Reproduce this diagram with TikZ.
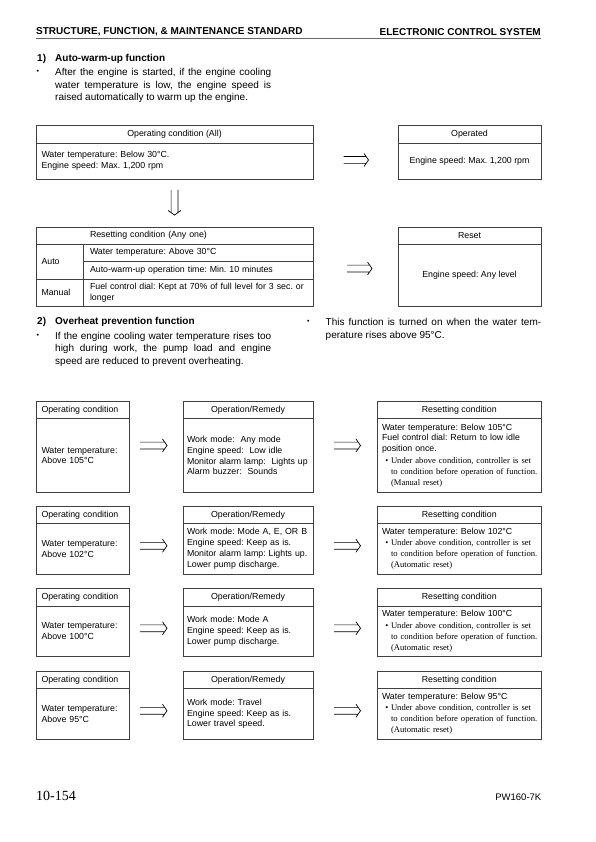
\documentclass[tikz,border=0pt]{standalone}
\usepackage{fontspec}
\setmainfont{Liberation Sans}
\newfontfamily\tms{Liberation Serif}
\usetikzlibrary{decorations.markings}

\newcommand{\bodyfont}{\fontsize{8.8}{10.8}\selectfont}
\newcommand{\parafont}{\fontsize{10}{12.6}\selectfont}
\newcommand{\headfont}{\bfseries\fontsize{10}{12}\selectfont}
\newcommand{\dotmark}{{\fontsize{7}{7}\selectfont •}}
\newcommand{\resetnote}[1]{\parbox[t]{158pt}{\tms\fontsize{8.6}{11}\selectfont
  \hspace*{9pt}\llap{\textbullet\hspace{2.5pt}}\makebox[149pt][s]{Under above condition, controller is set}\\
  \hspace*{9pt}\makebox[149pt][s]{to condition before operation of function.}\\
  \hspace*{9pt}(#1 reset)}}

\begin{document}
\frenchspacing
\begin{tikzpicture}[x=1pt,y=-1pt,
  box/.style={draw=black!75, line width=0.6pt, inner ysep=0pt, inner xsep=5.5pt,
    outer sep=0pt, anchor=north west, font=\bodyfont},
  txt/.style={inner sep=0pt, anchor=west},
  imp/.style 2 args={decorate, decoration={markings, mark=at position -#2 with {
    \draw[line width=0.7pt] (-#1,3.4pt) -- (-2.3pt,3.4pt) (-#1,-3.4pt) -- (-2.3pt,-3.4pt)
      (-4.5pt,6.5pt) -- (0pt,0pt) -- (-4.5pt,-6.5pt);}}}]
\useasboundingbox (0,0) rectangle (595,842);

\node[txt, font=\headfont] (hdl) at (36,31.8) {STRUCTURE, FUNCTION, \& MAINTENANCE STANDARD};
\node[txt, anchor=east, font=\headfont] (hdr) at (541,31.8) {ELECTRONIC CONTROL SYSTEM};
\draw[black!60, line width=0.8pt] (36,38.5) -- (541,38.5);

\node[txt, font=\headfont] (s1n) at (37,58.8) {1)};
\node[txt, font=\headfont] (s1) at (55,58.8) {Auto-warm-up function};
\node[txt] (s1d) at (36.5,72) {\dotmark};
\node[txt, anchor=north west, text width=216pt, align=justify, font=\parafont] (s1p) at (55,68.3)
  {After the engine is started, if the engine cooling\linebreak water temperature is low, the engine speed is\linebreak raised automatically to warm up the engine.};

\node[box, minimum width=277pt, minimum height=17.5pt] (opA) at (36,125.5) {Operating condition (All)};
\node[box, minimum width=277pt, minimum height=36pt, text width=266pt, align=left] (opAb) at (opA.south west)
  {Water temperature: Below 30°C.\\Engine speed: Max. 1,200 rpm};
\node[box, minimum width=143pt, minimum height=17.5pt] (opB) at (398,125.5) {Operated};
\node[box, minimum width=143pt, minimum height=36pt] (opBb) at (opB.south west) {Engine speed: Max. 1,200 rpm};
\draw[imp={25pt}{29.5pt}] ([yshift=1pt]opAb.east) -- ([yshift=1pt]opBb.west);

\node[box, minimum width=277pt, minimum height=17pt, text width=266pt, align=left] (rsC) at (36,227)
  {\hspace*{48.5pt}Resetting condition (Any one)};
\node[box, minimum width=47.5pt, minimum height=35pt, text width=36.5pt, align=left] (rsAuto) at (rsC.south west) {Auto};
\node[box, minimum width=47.5pt, minimum height=27pt, text width=36.5pt, align=left] (rsMan) at (rsAuto.south west) {Manual};
\node[box, minimum width=229.5pt, minimum height=17pt, text width=216.5pt, inner xsep=6.5pt, align=left] (rsWt) at (rsAuto.north east)
  {Water temperature: Above 30°C};
\node[box, minimum width=229.5pt, minimum height=18pt, text width=216.5pt, inner xsep=6.5pt, align=left] (rsTm) at (rsWt.south west)
  {Auto-warm-up operation time: Min. 10 minutes};
\node[box, minimum width=229.5pt, minimum height=27pt, text width=216.5pt, inner xsep=6.5pt, align=left] (rsFd) at (rsTm.south west)
  {Fuel control dial: Kept at 70\% of full level for 3 sec. or\\longer};
\node[box, minimum width=143pt, minimum height=17pt] (rsD) at (398,227) {Reset};
\node[box, minimum width=143pt, minimum height=62pt] (rsDb) at (rsD.south west) {Engine speed: Any level};
\draw[imp={25pt}{12pt}] (opAb.south) -- (rsC.north);
\path ([yshift=6.5pt]rsDb.west) coordinate (rsDin);
\draw[imp={25pt}{26pt}] (rsDin -| rsC.east) -- (rsDin);

\node[txt, font=\headfont] (s2n) at (37,321.7) {2)};
\node[txt, font=\headfont] (s2) at (55,321.7) {Overheat prevention function};
\node[txt] (s2d) at (36.5,335.5) {\dotmark};
\node[txt, anchor=north west, text width=216pt, align=justify, font=\parafont] (s2p) at (55,331.8)
  {If the engine cooling water temperature rises too\linebreak high during work, the pump load and engine\linebreak speed are reduced to prevent overheating.};
\node[txt] (s3d) at (307,321.7) {\dotmark};
\node[txt, anchor=north west, text width=215.5pt, align=justify, font=\parafont] (s3p) at (325.5,318)
  {This function is turned on when the water tem-\linebreak perature rises above 95°C.};

\node[box, minimum width=93pt, minimum height=17.5pt, text width=82pt, align=left] (oc1) at (36,401) {Operating condition};
\node[box, minimum width=93pt, minimum height=74pt, text width=82pt, align=left] (oc1b) at (oc1.south west)
  {Water temperature:\\Above 105°C};
\node[box, minimum width=130pt, minimum height=17.5pt] (or1) at (183,401) {Operation/Remedy};
\node[box, minimum width=130pt, minimum height=74pt, text width=122pt, inner xsep=4pt, align=left] (or1b) at (or1.south west)
  {Work mode:~ Any mode\\Engine speed:~ Low idle\\Monitor alarm lamp:~ Lights up\\Alarm buzzer:~ Sounds};
\node[box, minimum width=163.5pt, minimum height=17.5pt] (rc1) at (377.5,401) {Resetting condition};
\node[box, minimum width=163.5pt, minimum height=74pt, text width=154.5pt, inner xsep=4.5pt, align=left] (rc1b) at (rc1.south west)
  {Water temperature: Below 105°C\\Fuel control dial: Return to low idle\\position once.\\[1pt]\resetnote{Manual}};
\draw[imp={27pt}{16pt}] ([yshift=10pt]oc1b.east) -- ([yshift=10pt]or1b.west);
\draw[imp={26.5pt}{17pt}] ([yshift=10pt]or1b.east) -- ([yshift=10pt]rc1b.west);

\foreach \i/\top/\tmp/\work in {2/506/102/{Work mode: Mode A, E, OR B\\Engine speed: Keep as is.\\Monitor alarm lamp: Lights up.\\Lower pump discharge.},
    3/588.5/100/{Work mode: Mode A\\Engine speed: Keep as is.\\Lower pump discharge.},
    4/671/95/{Work mode: Travel\\Engine speed: Keep as is.\\Lower travel speed.}} {
  \node[box, minimum width=93pt, minimum height=17.5pt, text width=82pt, align=left] (oc\i) at (36,\top) {Operating condition};
  \node[box, minimum width=93pt, minimum height=50.5pt, text width=82pt, align=left] (oc\i b) at (oc\i.south west)
    {Water temperature:\\Above \tmp°C};
  \node[box, minimum width=130pt, minimum height=17.5pt] (or\i) at (183,\top) {Operation/Remedy};
  \node[box, minimum width=130pt, minimum height=50.5pt, text width=122pt, inner xsep=4pt, align=left] (or\i b) at (or\i.south west) {\work};
  \node[box, minimum width=163.5pt, minimum height=17.5pt] (rc\i) at (377.5,\top) {Resetting condition};
  \node[box, minimum width=163.5pt, minimum height=50.5pt, text width=154.5pt, inner xsep=4.5pt, align=left] (rc\i b) at (rc\i.south west)
    {Water temperature: Below \tmp°C\\[1pt]\resetnote{Automatic}};
  \draw[imp={27pt}{16pt}] ([yshift=3pt]oc\i b.east) -- ([yshift=3pt]or\i b.west);
  \draw[imp={26.5pt}{17pt}] ([yshift=3pt]or\i b.east) -- ([yshift=3pt]rc\i b.west);
}

\node[txt, font=\tms\fontsize{14}{16}\selectfont] (pgno) at (36,796) {10-154};
\node[txt, anchor=east, font=\fontsize{9.5}{11}\selectfont] (model) at (541.5,797) {PW160-7K};
\end{tikzpicture}
\end{document}
